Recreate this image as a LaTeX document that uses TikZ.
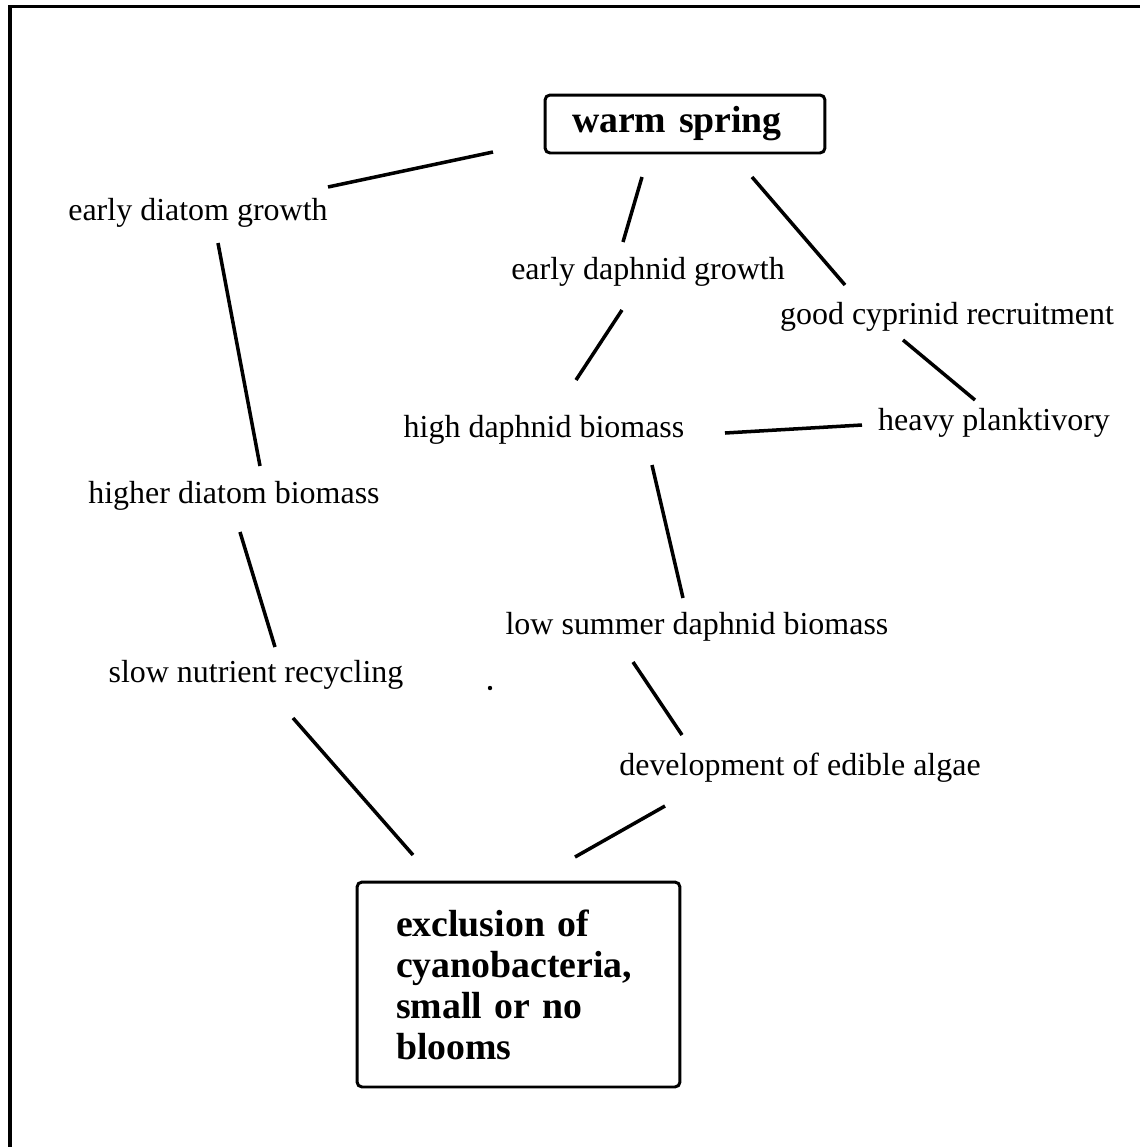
\documentclass[tikz,border=0pt]{standalone}
\usepackage{fontspec}
\setmainfont{Liberation Serif}
\usetikzlibrary{positioning}

\tikzset{
    label/.style={font=\fontsize{18.2}{22}\selectfont, inner sep=0pt},
    keybox/.style={draw, line width=1.7pt, rounded corners=0.1cm, align=left,
        font=\fontsize{21.5}{23.3}\selectfont\bfseries},
    link/.style={line width=2pt}
}

\begin{document}
\begin{tikzpicture}[x=0.02cm, y=-0.02cm]
    \useasboundingbox (0,0) rectangle (1140,1147);

    % Frame (only top and left edges show)
    \draw[line width=1.9pt] (8,6.5) -- (1140,6.5);
    \draw[line width=2.2pt] (10,5) -- (10,1147);

    % Boxes
    \node[keybox, minimum width=5.6cm, minimum height=1.16cm, inner xsep=0.54cm,
          text width=4.52cm] (ws) at (685,124) {warm spring};
    \node[keybox, minimum width=6.46cm, minimum height=4.1cm, inner xsep=0.78cm,
          text width=4.9cm] (excl) at (518.5,984.5)
          {exclusion of\\cyanobacteria,\\small or no\\blooms};

    % Labels
    \node[label] (edg) at (198,213) {early diatom growth};
    \node[label] (edp) at (648,272) {early daphnid growth};
    \node[label] (gcr) at (947,317) {good cyprinid recruitment};
    \node[label] (hdb) at (544,430) {high daphnid biomass};
    \node[label] (hpl) at (994,423) {heavy planktivory};
    \node[label] (hdm) at (234,496) {higher diatom biomass};
    \node[label] (lsd) at (697,627) {low summer daphnid biomass};
    \node[label] (snr) at (256,675) {slow nutrient recycling};
    \node[label] (dea) at (800,768) {development of edible algae};

    % Links
    \draw[link] ([shift={(130,-26)}]edg.center) -- ([shift={(-192,28)}]ws.center);
    \draw[link] ([shift={(-43,53)}]ws.center) -- ([shift={(-25,-30)}]edp.center);
    \draw[link] ([shift={(67,53)}]ws.center) -- ([shift={(-102,-32)}]gcr.center);
    \draw[link] ([shift={(-26,38)}]edp.center) -- ([shift={(32,-50)}]hdb.center);
    \draw[link] ([shift={(-44,23)}]gcr.center) -- ([shift={(-19,-23)}]hpl.center);
    \draw[link] ([shift={(181,3)}]hdb.center) -- ([shift={(-132,2)}]hpl.center);
    \draw[link] ([shift={(20,30)}]edg.center) -- ([shift={(26,-30)}]hdm.center);
    \draw[link] ([shift={(108,35)}]hdb.center) -- ([shift={(-14,-29)}]lsd.center);
    \draw[link] ([shift={(6,36)}]hdm.center) -- ([shift={(19,-28)}]snr.center);
    \draw[link] ([shift={(-64,35)}]lsd.center) -- ([shift={(-118,-33)}]dea.center);
    \draw[link] ([shift={(37,43)}]snr.center) -- ([shift={(-105.5,-129.5)}]excl.center);
    \draw[link] ([shift={(-135,38)}]dea.center) -- ([shift={(56.5,-127.5)}]excl.center);

    % Speck
    \fill (490,688) circle (2.2);
\end{tikzpicture}
\end{document}
